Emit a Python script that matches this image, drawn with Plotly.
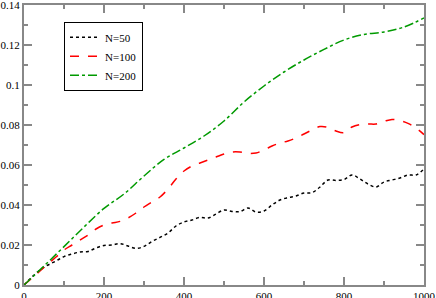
import plotly.graph_objects as go

x50 = [0,20,40,60,80,100,120,140,160,180,200,220,240,260,280,300,320,340,360,380,400,420,440,460,480,500,520,540,560,580,600,620,640,660,680,700,720,740,760,780,800,820,840,860,880,900,920,940,960,980,1000]
y50 = [0,0.004,0.0075,0.010,0.012,0.0142,0.0155,0.0165,0.0168,0.0185,0.0198,0.0200,0.0207,0.0195,0.0183,0.0193,0.0218,0.0238,0.026,0.0295,0.0315,0.0325,0.0338,0.0335,0.0355,0.0375,0.0368,0.0367,0.0385,0.0365,0.037,0.040,0.0425,0.0437,0.0445,0.046,0.0462,0.049,0.0525,0.0523,0.0527,0.055,0.053,0.0505,0.049,0.0515,0.0525,0.0535,0.055,0.055,0.058]

x100 = [0,20,40,60,80,100,120,140,160,180,200,220,240,260,280,300,320,340,360,380,400,420,440,460,480,500,520,540,560,580,600,620,640,660,680,700,720,740,760,780,800,820,840,860,880,900,920,940,960,980,1000]
y100 = [0,0.0035,0.007,0.0105,0.014,0.0175,0.020,0.0225,0.025,0.028,0.030,0.031,0.0318,0.0335,0.036,0.039,0.0415,0.044,0.048,0.053,0.057,0.0595,0.061,0.0625,0.064,0.0655,0.0665,0.0665,0.0658,0.066,0.0675,0.0695,0.071,0.072,0.0735,0.0755,0.0775,0.0792,0.0788,0.077,0.0762,0.079,0.0802,0.0805,0.0805,0.0818,0.0828,0.0822,0.0808,0.0785,0.0752]

x200 = [0,50,100,150,200,250,300,350,400,450,500,550,600,650,700,750,800,850,900,950,1000]
y200 = [0,0.0095,0.0192,0.029,0.0383,0.0455,0.0545,0.0628,0.0685,0.0745,0.082,0.0915,0.0995,0.1065,0.1125,0.1178,0.1225,0.1253,0.1265,0.129,0.1335]

series_names = ["N=50", "N=100", "N=200"]
xticks = [0, 200, 400, 600, 800, 1000]
xticktext = ["0", "200", "400", "600", "800", "1000"]
yticks = [0, 0.02, 0.04, 0.06, 0.08, 0.1, 0.12, 0.14]
yticktext = ["0", "0.02", "0.04", "0.06", "0.08", "0.1", "0.12", "0.14"]

fig = go.Figure()
fig.add_trace(go.Scatter(x=x50, y=y50, mode="lines", name=series_names[0],
                         line=dict(color="black", dash="dot", width=1.5, shape="spline")))
fig.add_trace(go.Scatter(x=x100, y=y100, mode="lines", name=series_names[1],
                         line=dict(color="#ff0000", dash="dash", width=1.5, shape="spline")))
fig.add_trace(go.Scatter(x=x200, y=y200, mode="lines", name=series_names[2],
                         line=dict(color="#009a00", dash="dashdot", width=1.5, shape="spline")))

font = dict(family="Liberation Serif", size=11, color="black")
axis_common = dict(showgrid=False, zeroline=False, showline=True, linecolor="#888888",
                   linewidth=2, ticks="inside", tickcolor="#888888", tickwidth=2,
                   ticklen=8, mirror="ticks", tickfont=font, automargin=False,
                   ticklabeloverflow="allow")

fig.update_xaxes(range=[0, 1000], tickvals=xticks, ticktext=xticktext, ticklabelstandoff=0,
                 minor=dict(dtick=100, ticks="inside", ticklen=4, tickcolor="#888888", tickwidth=2),
                 **axis_common)
fig.update_yaxes(range=[0, 0.14], tickvals=yticks, ticktext=yticktext, ticklabelstandoff=0,
                 minor=dict(dtick=0.01, ticks="inside", ticklen=4, tickcolor="#888888", tickwidth=2),
                 **axis_common)

fig.update_layout(
    width=436, height=298,
    margin=dict(l=24, r=12, t=5, b=13),
    plot_bgcolor="white", paper_bgcolor="white",
    font=font,
    showlegend=True,
    legend=dict(x=0.1, y=0.94, xanchor="left", yanchor="top",
                bordercolor="black", borderwidth=1, bgcolor="white",
                font=font, tracegroupgap=0, itemwidth=30),
)

fig.write_html("out.html", config={"displayModeBar": False},
               post_script="document.body.style.margin='0';document.body.style.overflow='hidden';")
